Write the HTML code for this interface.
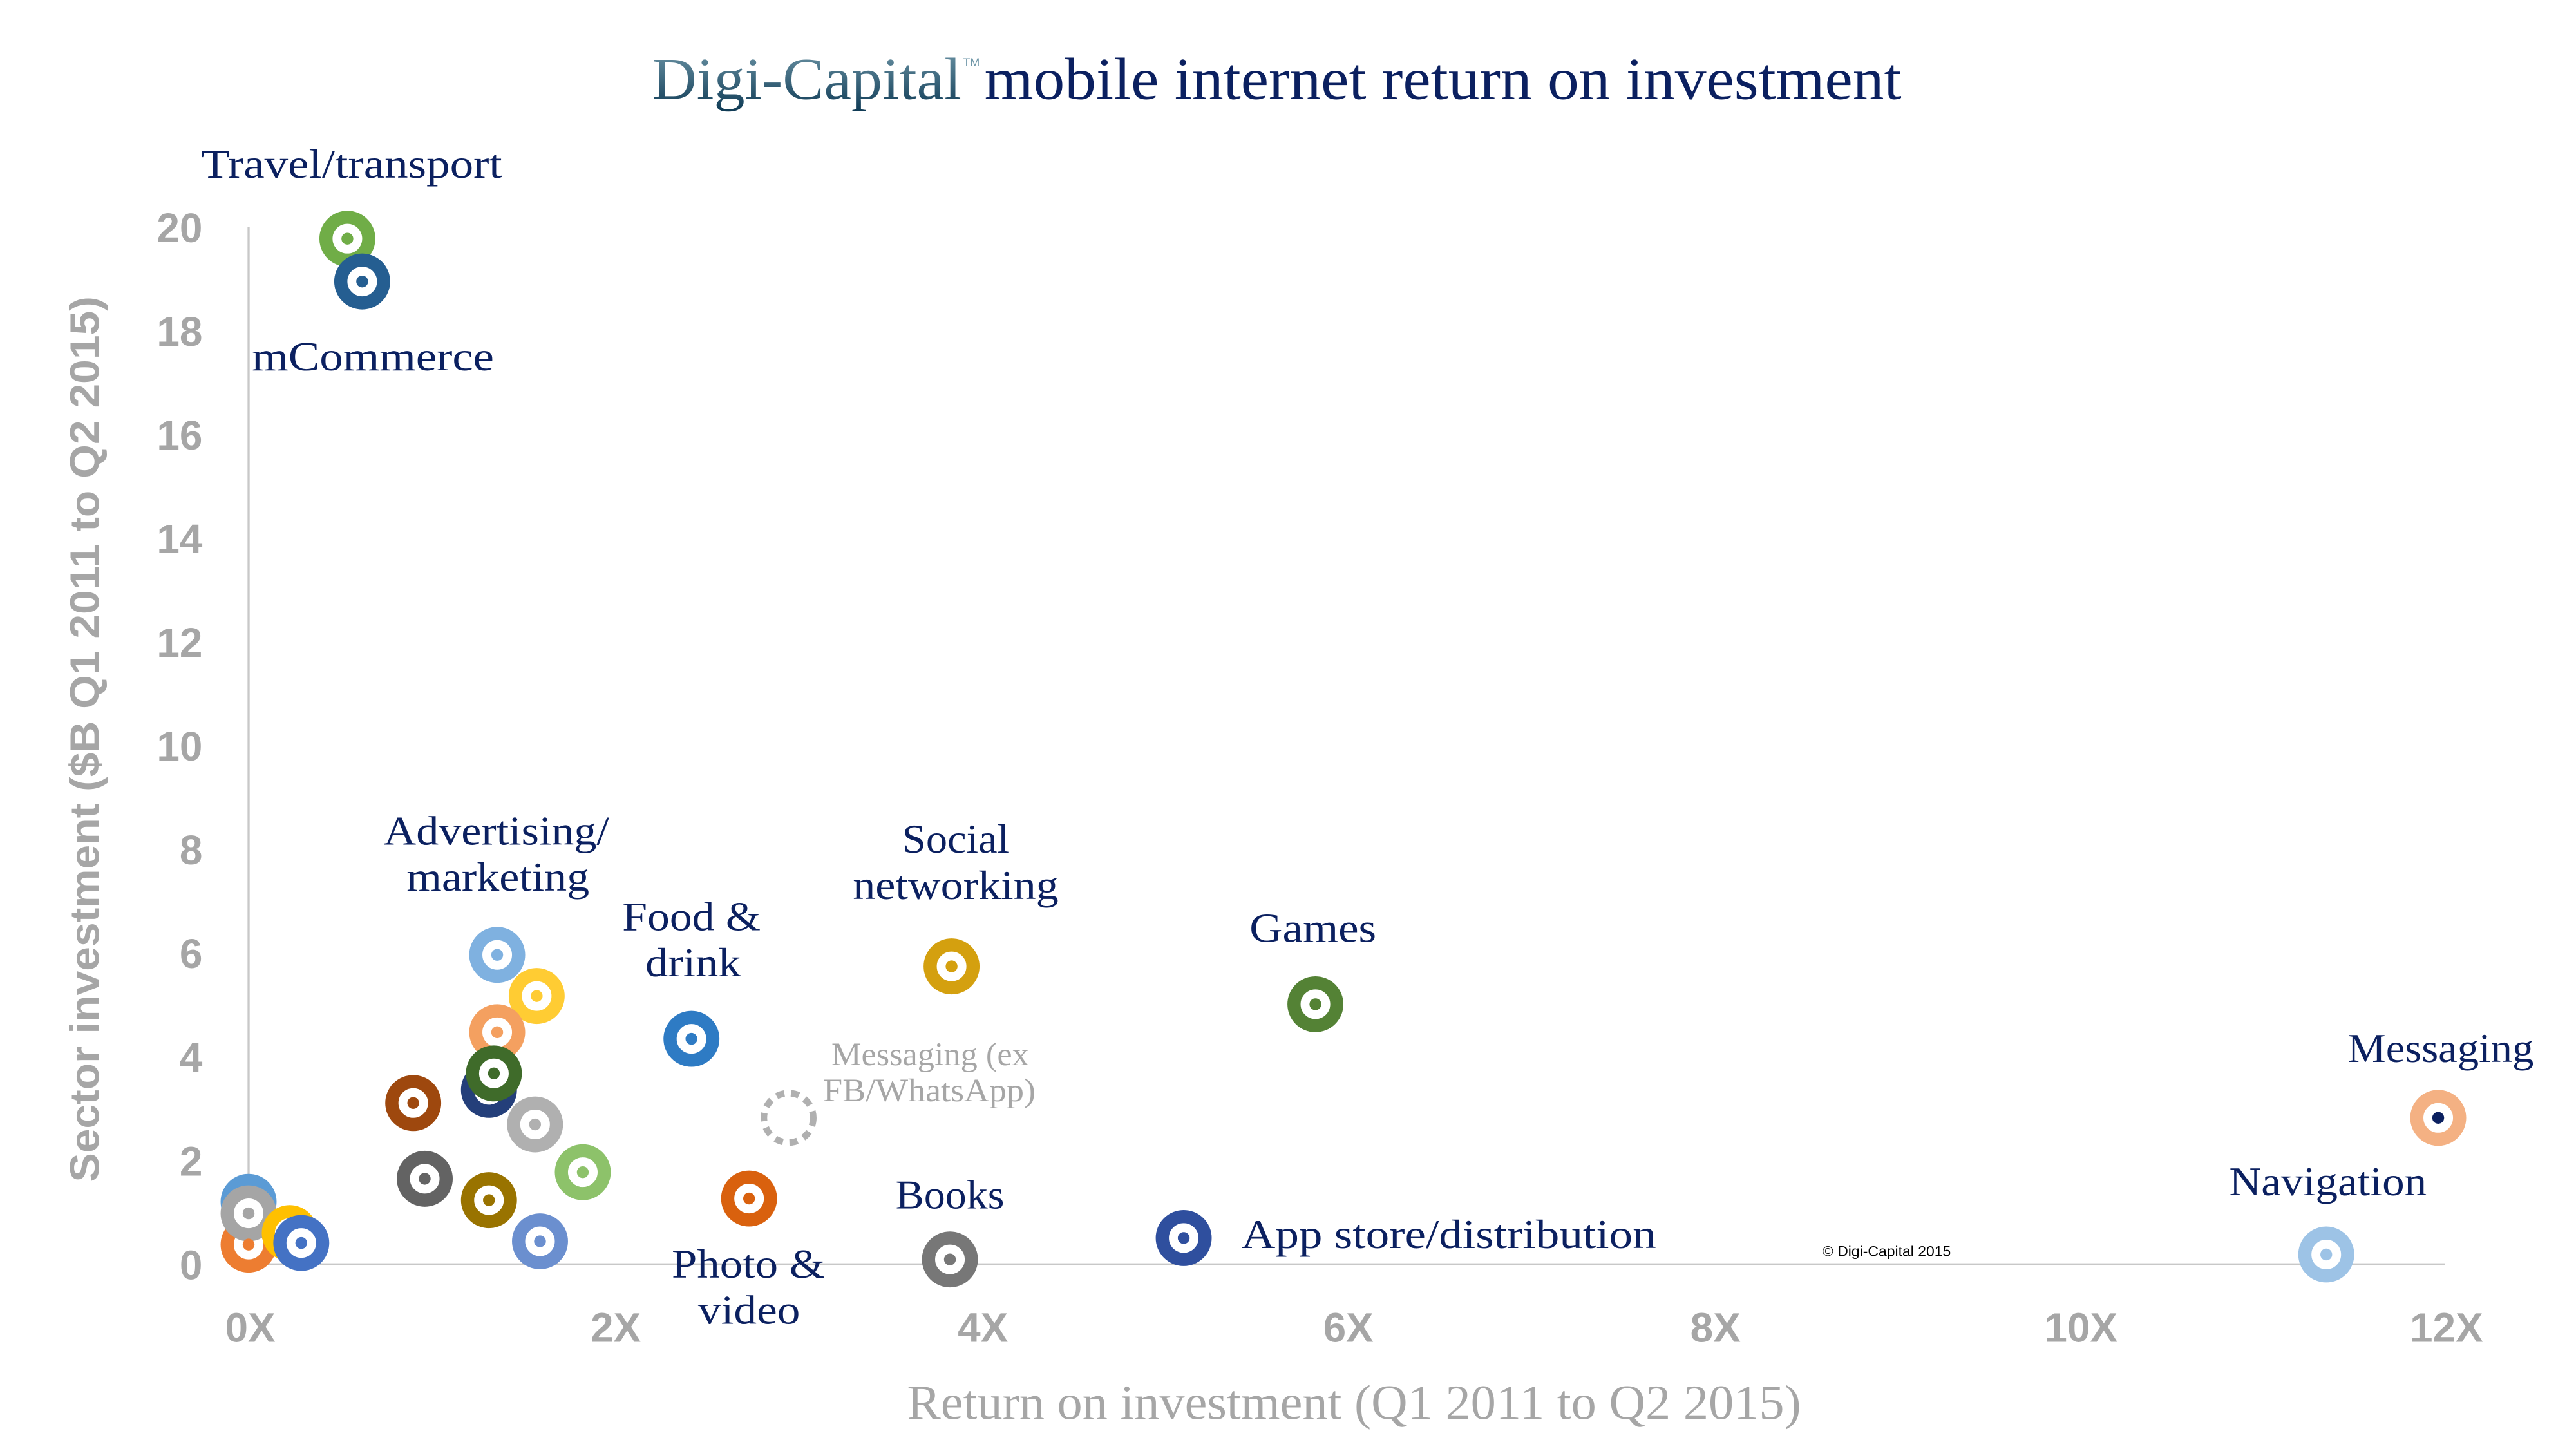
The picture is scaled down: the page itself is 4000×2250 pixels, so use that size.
<!DOCTYPE html>
<html><head><meta charset="utf-8"><style>
html,body{margin:0;padding:0;background:#fff;}
svg{display:block;}
.lb{font-family:"Liberation Serif",serif;fill:#0b2060;font-size:25px;}
.tk{font-family:"Liberation Sans",sans-serif;font-weight:bold;fill:#a6a6a6;font-size:25px;}
</style></head><body>
<svg width="4000" height="2250" viewBox="0 0 1564.7 880.1" preserveAspectRatio="xMinYMin meet" xmlns="http://www.w3.org/2000/svg">
<defs><linearGradient id="g" x1="0" y1="0" x2="0" y2="1"><stop offset="0" stop-color="#6f97a8"/><stop offset="1" stop-color="#0e3a55"/></linearGradient></defs>
<rect width="1564.7" height="880.1" fill="#fff"/>
<text x="396" y="60" font-family="Liberation Serif,serif" font-size="36" fill="url(#g)" textLength="188" lengthAdjust="spacingAndGlyphs">Digi-Capital</text>
<text x="585" y="40" font-family="Liberation Sans,sans-serif" font-size="7" fill="#6f97a8">TM</text>
<text x="598" y="60" font-family="Liberation Serif,serif" font-size="36" fill="#0b2060" textLength="557" lengthAdjust="spacingAndGlyphs">mobile internet return on investment</text>
<line x1="151" y1="138" x2="151" y2="768" stroke="#c8c8c8" stroke-width="1.3"/>
<line x1="151" y1="768" x2="1485" y2="768" stroke="#c8c8c8" stroke-width="1.3"/>
<g class="tk" text-anchor="end">
<text x="123" y="777">0</text><text x="123" y="714">2</text><text x="123" y="651">4</text><text x="123" y="588">6</text><text x="123" y="525">8</text><text x="123" y="462">10</text><text x="123" y="399">12</text><text x="123" y="336">14</text><text x="123" y="273">16</text><text x="123" y="210">18</text><text x="123" y="147">20</text>
</g>
<g class="tk" text-anchor="middle">
<text x="152" y="815">0X</text><text x="374" y="815">2X</text><text x="597" y="815">4X</text><text x="819" y="815">6X</text><text x="1042" y="815">8X</text><text x="1264" y="815">10X</text><text x="1486" y="815">12X</text>
</g>
<text x="551" y="862" font-family="Liberation Serif,serif" font-size="30" fill="#a6a6a6" textLength="543" lengthAdjust="spacingAndGlyphs">Return on investment (Q1 2011 to Q2 2015)</text>
<text transform="translate(60,718) rotate(-90)" font-family="Liberation Sans,sans-serif" font-weight="bold" font-size="25" fill="#a6a6a6" textLength="538" lengthAdjust="spacingAndGlyphs">Sector investment ($B Q1 2011 to Q2 2015)</text>
<g fill="#fff" stroke-width="8">
<circle cx="211" cy="145" r="13" stroke="#70ad47"/>
<circle cx="220" cy="171" r="13" stroke="#255e91"/>
<circle cx="302" cy="580" r="13" stroke="#7fb1e0"/>
<circle cx="326" cy="605" r="13" stroke="#ffcc33"/>
<circle cx="302" cy="627" r="13" stroke="#f4a060"/>
<circle cx="297" cy="662" r="13" stroke="#243f7a"/>
<circle cx="300" cy="652" r="13" stroke="#3f6b2a"/>
<circle cx="251" cy="670" r="13" stroke="#9e480e"/>
<circle cx="325" cy="683" r="13" stroke="#b0b0b0"/>
<circle cx="354" cy="712" r="13" stroke="#8dc26a"/>
<circle cx="258" cy="716" r="13" stroke="#636363"/>
<circle cx="297" cy="729" r="13" stroke="#997300"/>
<circle cx="328" cy="754" r="13" stroke="#6b8fcf"/>
<circle cx="420" cy="631" r="13" stroke="#2e7bc4"/>
<circle cx="455" cy="728" r="13" stroke="#d9610e"/>
<circle cx="578" cy="587" r="13" stroke="#d4a00f"/>
<circle cx="799" cy="610" r="13" stroke="#548235"/>
<circle cx="577" cy="765" r="13" stroke="#777777"/>
<circle cx="719" cy="752" r="13" stroke="#2f4f9e"/>
<circle cx="1413" cy="762" r="13" stroke="#9dc3e6"/>
<circle cx="1481" cy="679" r="13" stroke="#f4b183"/>
<circle cx="151" cy="730" r="13" stroke="#5b9bd5"/>
<circle cx="151" cy="756" r="13" stroke="#ed7d31"/>
<circle cx="151" cy="737" r="13" stroke="#a5a5a5"/>
<circle cx="176" cy="749" r="13" stroke="#ffc000"/>
<circle cx="183" cy="755" r="13" stroke="#4472c4"/>
</g>
<circle cx="479" cy="679" r="15" fill="none" stroke="#b0b0b0" stroke-width="4" stroke-dasharray="5 4"/>
<g>
<circle cx="211" cy="145" r="3.6" fill="#70ad47"/><circle cx="220" cy="171" r="3.6" fill="#255e91"/>
<circle cx="302" cy="580" r="3.6" fill="#7fb1e0"/><circle cx="326" cy="605" r="3.6" fill="#ffcc33"/>
<circle cx="302" cy="627" r="3.6" fill="#f4a060"/><circle cx="300" cy="652" r="3.6" fill="#3f6b2a"/>
<circle cx="251" cy="670" r="3.6" fill="#9e480e"/><circle cx="325" cy="683" r="3.6" fill="#b0b0b0"/>
<circle cx="354" cy="712" r="3.6" fill="#8dc26a"/><circle cx="258" cy="716" r="3.6" fill="#636363"/>
<circle cx="297" cy="729" r="3.6" fill="#997300"/><circle cx="328" cy="754" r="3.6" fill="#6b8fcf"/>
<circle cx="420" cy="631" r="3.6" fill="#2e7bc4"/><circle cx="455" cy="728" r="3.6" fill="#d9610e"/>
<circle cx="578" cy="587" r="3.6" fill="#d4a00f"/><circle cx="799" cy="610" r="3.6" fill="#548235"/>
<circle cx="577" cy="765" r="3.6" fill="#777777"/><circle cx="719" cy="752" r="3.6" fill="#2f4f9e"/>
<circle cx="1413" cy="762" r="3.6" fill="#9dc3e6"/><circle cx="1481" cy="679" r="3.6" fill="#0b2060"/>
<circle cx="151" cy="756" r="3.6" fill="#ed7d31"/><circle cx="151" cy="737" r="3.6" fill="#a5a5a5"/>
<circle cx="183" cy="755" r="3.6" fill="#4472c4"/>
</g>
<g class="lb">
<text x="122" y="108" textLength="183" lengthAdjust="spacingAndGlyphs">Travel/transport</text>
<text x="153" y="225" textLength="147" lengthAdjust="spacingAndGlyphs">mCommerce</text>
<text x="233" y="513" textLength="137" lengthAdjust="spacingAndGlyphs">Advertising/</text>
<text x="247" y="541" textLength="111" lengthAdjust="spacingAndGlyphs">marketing</text>
<text x="378" y="565" textLength="84" lengthAdjust="spacingAndGlyphs">Food &amp;</text>
<text x="392" y="593" textLength="58" lengthAdjust="spacingAndGlyphs">drink</text>
<text x="548" y="518" textLength="65" lengthAdjust="spacingAndGlyphs">Social</text>
<text x="518" y="546" textLength="125" lengthAdjust="spacingAndGlyphs">networking</text>
<text x="759" y="572" textLength="77" lengthAdjust="spacingAndGlyphs">Games</text>
<text x="1426" y="645" textLength="113" lengthAdjust="spacingAndGlyphs">Messaging</text>
<text x="1354" y="726" textLength="120" lengthAdjust="spacingAndGlyphs">Navigation</text>
<text x="544" y="734" textLength="66" lengthAdjust="spacingAndGlyphs">Books</text>
<text x="754" y="758" textLength="252" lengthAdjust="spacingAndGlyphs">App store/distribution</text>
<text x="408" y="776" textLength="93" lengthAdjust="spacingAndGlyphs">Photo &amp;</text>
<text x="424" y="804" textLength="62" lengthAdjust="spacingAndGlyphs">video</text>
</g>
<g font-family="Liberation Serif,serif" font-size="20" fill="#a6a6a6">
<text x="505" y="647" textLength="120" lengthAdjust="spacingAndGlyphs">Messaging (ex</text>
<text x="500" y="669" textLength="129" lengthAdjust="spacingAndGlyphs">FB/WhatsApp)</text>
</g>
<text x="1107" y="763" font-family="Liberation Sans,sans-serif" font-size="8.5" fill="#000" textLength="78" lengthAdjust="spacingAndGlyphs">© Digi-Capital 2015</text>
</svg>
</body></html>
